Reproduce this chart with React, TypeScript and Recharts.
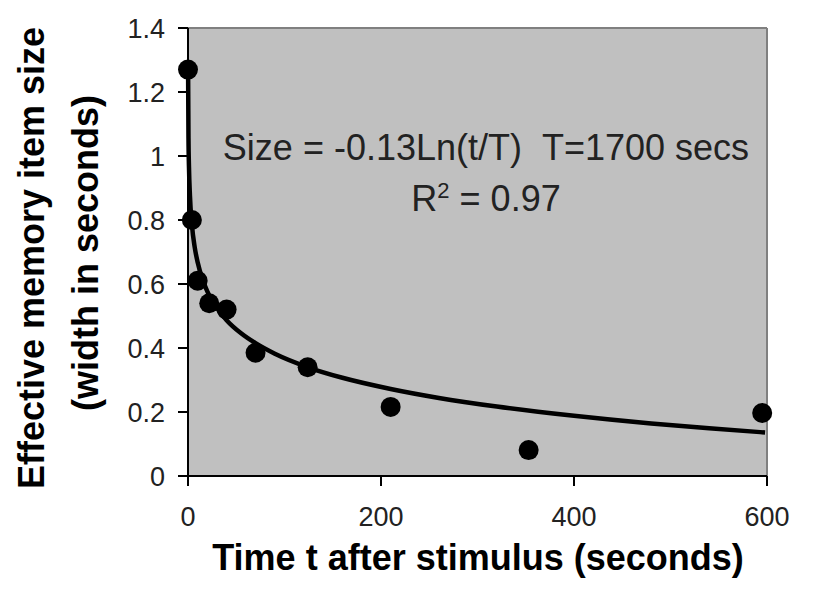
import React from 'react';
import {
  ComposedChart,
  XAxis,
  YAxis,
  Line,
  Scatter,
  CartesianGrid,
  ReferenceLine,
} from 'recharts';

// Observed points (time in seconds, effective memory item size)
const obsTime = [0, 4, 10, 22, 40, 70, 124, 210, 353, 595];
const obsSize = [1.27, 0.8, 0.61, 0.54, 0.52, 0.385, 0.34, 0.216, 0.081, 0.197];

// Trend line points
const fitTime = [0.1, 0.5, 1, 2, 4, 7, 10, 15, 20, 30, 40, 55, 70, 90, 125, 160, 210, 260, 320, 400, 480, 540, 598];
const fitSize = [1.266, 1.057, 0.967, 0.877, 0.787, 0.714, 0.668, 0.615, 0.577, 0.525, 0.487, 0.446, 0.415, 0.382, 0.339, 0.307, 0.272, 0.244, 0.217, 0.188, 0.164, 0.149, 0.136];

const xTicks = [0, 200, 400, 600];
const yTicks = [0, 0.2, 0.4, 0.6, 0.8, 1, 1.2, 1.4];

const xTitle = 'Time t after stimulus (seconds)';
const yTitle1 = 'Effective memory item size';
const yTitle2 = '(width in seconds)';
const eqText = 'Size = -0.13Ln(t/T) \u00a0T=1700 secs';
const r2Value = ' = 0.97';

const obsData = obsTime.map((t, i) => ({ t, v: obsSize[i] }));
const fitData = fitTime.map((t, i) => ({ t, v: fitSize[i] }));

const FONT = '"Liberation Sans", Arial, sans-serif';

const Dot = (props: any) => {
  const { cx, cy } = props;
  if (cx == null || cy == null) return null;
  return <circle cx={cx} cy={cy} r={10} fill="#000" />;
};

export default function App() {
  return (
    <div style={{ position: 'absolute', left: 0, top: 0, width: 814, height: 600, background: '#fff' }}>
      <ComposedChart
        width={814}
        height={600}
        margin={{ top: 28, right: 47, bottom: 0, left: 0 }}
        style={{ fontFamily: FONT }}
      >
        <CartesianGrid fill="#c0c0c0" fillOpacity={1} horizontal={false} vertical={false} stroke="none" />
        <XAxis
          dataKey="t"
          type="number"
          domain={[0, 600]}
          ticks={xTicks}
          height={124}
          axisLine={{ stroke: '#000', strokeWidth: 2 }}
          tickLine={{ stroke: '#000', strokeWidth: 2 }}
          tickSize={10}
          tickMargin={21}
          tick={{ fill: '#222', fontSize: 27, fontFamily: FONT }}
        />
        <YAxis
          dataKey="v"
          type="number"
          domain={[0, 1.4]}
          ticks={yTicks}
          width={188}
          axisLine={{ stroke: '#000', strokeWidth: 2 }}
          tickLine={{ stroke: '#000', strokeWidth: 2 }}
          tickSize={10}
          tickMargin={13}
          tick={{ fill: '#222', fontSize: 27, fontFamily: FONT }}
        />
        <ReferenceLine y={1.4} stroke="#808080" strokeWidth={2} />
        <ReferenceLine x={600} stroke="#808080" strokeWidth={2} />
        <Line
          data={fitData}
          dataKey="v"
          type="monotone"
          stroke="#000"
          strokeWidth={4.5}
          dot={false}
          activeDot={false}
          isAnimationActive={false}
        />
        <Scatter data={obsData} dataKey="v" fill="#000" shape={Dot} isAnimationActive={false} />
      </ComposedChart>
      <svg
        width={814}
        height={600}
        style={{ position: 'absolute', left: 0, top: 0, pointerEvents: 'none', fontFamily: FONT }}
      >
        <text x={486} y={160} textAnchor="middle" fontSize={36} fill="#222">
          {eqText}
        </text>
        <text x={486} y={211} textAnchor="middle" fontSize={36} fill="#222">
          <tspan>R</tspan>
          <tspan dy={-13} fontSize={22}>2</tspan>
          <tspan dy={13}>{r2Value}</tspan>
        </text>
        <text x={478} y={570} textAnchor="middle" fontSize={36} fontWeight="bold" fill="#000">
          {xTitle}
        </text>
        <text
          x={31}
          y={258}
          textAnchor="middle"
          dominantBaseline="central"
          fontSize={36}
          fontWeight="bold"
          fill="#000"
          transform="rotate(-90 31 258)"
        >
          {yTitle1}
        </text>
        <text
          x={85}
          y={253}
          textAnchor="middle"
          dominantBaseline="central"
          fontSize={36}
          fontWeight="bold"
          fill="#000"
          transform="rotate(-90 85 253)"
        >
          {yTitle2}
        </text>
      </svg>
    </div>
  );
}
